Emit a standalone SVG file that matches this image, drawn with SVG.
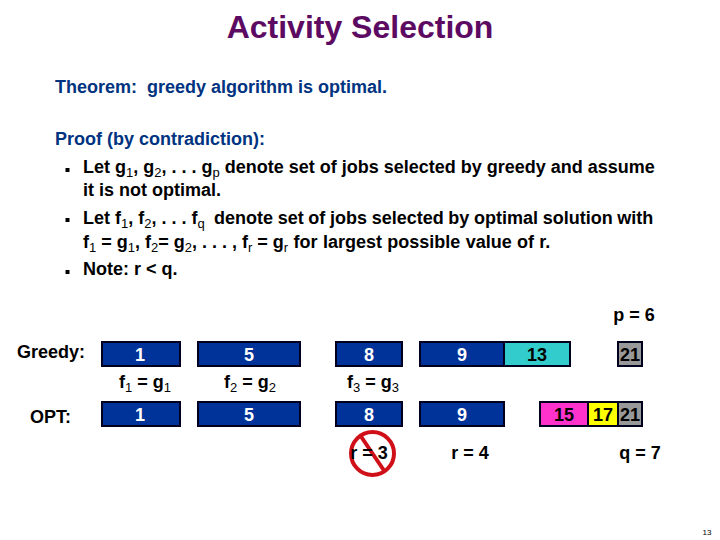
<svg xmlns="http://www.w3.org/2000/svg" width="720" height="540" viewBox="0 0 720 540">
<style>
text{font-family:"Liberation Sans",Arial,sans-serif;font-weight:bold;fill:#000}
.t{font-size:18px}
.b{fill:#003380}
.c{font-size:18px;text-anchor:middle}
.s{font-size:13px;font-weight:normal}
.box{stroke:#00001e;stroke-width:2}
.n{fill:#003399}
.d{fill:#000}
.l{fill:#fff}
</style>
<text x="360" y="38" font-size="32" text-anchor="middle" style="fill:#5c0a62">Activity Selection</text>
<text class="t b" x="55" y="93">Theorem:&#160; greedy algorithm is optimal.</text>
<text class="t b" x="55" y="145">Proof (by contradiction):</text>
<g id="bullets"><rect class="d" x="65.500" y="168" width="4" height="4"/><rect class="d" x="65.500" y="218" width="4" height="4"/><rect class="d" x="65.500" y="270" width="4" height="4"/></g>
<text class="t" x="83" y="173">Let g<tspan class="s" dy="4">1</tspan><tspan dy="-4">, g</tspan><tspan class="s" dy="4">2</tspan><tspan dy="-4">, . . . g</tspan><tspan class="s" dy="4">p</tspan><tspan dy="-4"> denote set of jobs selected by greedy and assume</tspan></text>
<text class="t" x="83" y="196">it is not optimal.</text>
<text class="t" x="83" y="224">Let f<tspan class="s" dy="4">1</tspan><tspan dy="-4">, f</tspan><tspan class="s" dy="4">2</tspan><tspan dy="-4">, . . . f</tspan><tspan class="s" dy="4">q</tspan><tspan dy="-4" word-spacing="-0.35">&#160; denote set of jobs selected by optimal solution with</tspan></text>
<text class="t" x="83" y="248">f<tspan class="s" dy="4">1</tspan><tspan dy="-4"> = g</tspan><tspan class="s" dy="4">1</tspan><tspan dy="-4">, f</tspan><tspan class="s" dy="4">2</tspan><tspan dy="-4">= g</tspan><tspan class="s" dy="4">2</tspan><tspan dy="-4">, . . . , f</tspan><tspan class="s" dy="4">r</tspan><tspan dy="-4"> = g</tspan><tspan class="s" dy="4">r</tspan><tspan dy="-4" word-spacing="0.35"> for largest possible value of r.</tspan></text>
<text class="t" x="83" y="275">Note: r &lt; q.</text>
<text class="c" x="634" y="321">p = 6</text>
<text class="t" x="17" y="358">Greedy:</text>
<text class="t" x="30" y="423">OPT:</text>
<g id="greedy">
<g id="g1"><rect class="box n" x="102" y="342" width="78" height="24"/><text class="c l" x="140" y="361">1</text></g>
<g id="g2"><rect class="box n" x="198" y="342" width="102" height="24"/><text class="c l" x="249" y="361">5</text></g>
<g id="g3"><rect class="box n" x="336" y="342" width="66" height="24"/><text class="c l" x="369" y="361">8</text></g>
<g id="g4"><rect class="box n" x="420" y="342" width="84" height="24"/><text class="c l" x="462" y="361">9</text></g>
<g id="g5"><rect class="box" x="504" y="342" width="66" height="24" fill="#33cccc"/><text class="c" x="537" y="361">13</text></g>
<g id="g6"><rect class="box" x="618" y="342" width="24" height="24" fill="#999999"/><text class="c" x="630" y="361">21</text></g>
</g>
<text class="c" x="145" y="388">f<tspan class="s" dy="4">1</tspan><tspan dy="-4"> = g</tspan><tspan class="s" dy="4">1</tspan></text>
<text class="c" x="250" y="388">f<tspan class="s" dy="4">2</tspan><tspan dy="-4"> = g</tspan><tspan class="s" dy="4">2</tspan></text>
<text class="c" x="373" y="388">f<tspan class="s" dy="4">3</tspan><tspan dy="-4"> = g</tspan><tspan class="s" dy="4">3</tspan></text>
<g id="opt">
<g id="o1"><rect class="box n" x="102" y="402" width="78" height="24"/><text class="c l" x="140" y="421">1</text></g>
<g id="o2"><rect class="box n" x="198" y="402" width="102" height="24"/><text class="c l" x="249" y="421">5</text></g>
<g id="o3"><rect class="box n" x="336" y="402" width="66" height="24"/><text class="c l" x="369" y="421">8</text></g>
<g id="o4"><rect class="box n" x="420" y="402" width="84" height="24"/><text class="c l" x="462" y="421">9</text></g>
<g id="o5"><rect class="box" x="540" y="402" width="48" height="24" fill="#ff33cc"/><text class="c" x="564" y="421">15</text></g>
<g id="o6"><rect class="box" x="588" y="402" width="30" height="24" fill="#ffff00"/><text class="c" x="603" y="421">17</text></g>
<g id="o7"><rect class="box" x="618" y="402" width="24" height="24" fill="#999999"/><text class="c" x="630" y="421">21</text></g>
</g>
<g id="no" fill="none" stroke="#d01018" stroke-width="4"><circle cx="372.500" cy="453.500" r="21.500"/><line x1="360" y1="435" x2="385" y2="472"/></g>
<text class="c" x="369" y="459">r = 3</text>
<text class="c" x="470" y="459">r = 4</text>
<text class="c" x="640" y="459">q = 7</text>
<text x="707" y="535" font-size="8" text-anchor="middle" style="font-weight:normal">13</text>
</svg>
